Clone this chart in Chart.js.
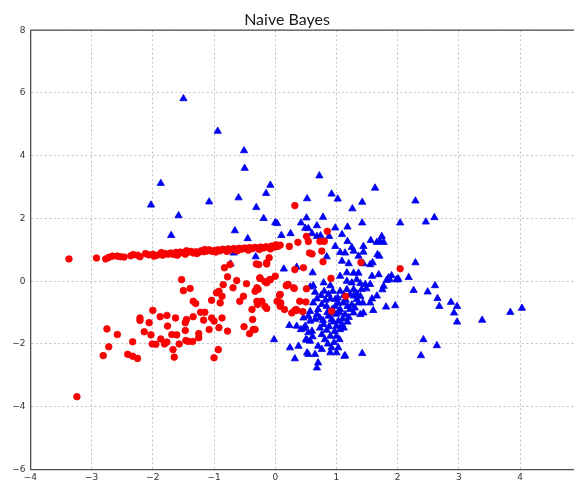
<!DOCTYPE html>
<html>
<head>
<meta charset="utf-8">
<title>Naive Bayes</title>
<script src="https://cdn.jsdelivr.net/npm/chart.js@4.4.0/dist/chart.umd.min.js"></script>
<style>
  html, body { margin: 0; padding: 0; background: #ffffff; }
  #wrap { width: 574px; height: 485px; }
</style>
</head>
<body>
<div id="wrap"><canvas id="chart" width="574" height="485"></canvas></div>
<script>
// Class 0 (red circles)
const redX = [
  -3.37, -2.92, -2.77, -2.72, -2.66, -2.58, -2.53, -2.47, -2.36, -2.32, -2.25, -2.21, -2.12, -2.07, -2.00, -1.98,
  -1.93, -1.88, -1.86, -1.84, -1.80, -1.75, -1.71, -1.66, -1.62, -1.60, -1.58, -1.55, -1.50, -1.47, -1.45, -1.43,
  -1.38, -1.34, -1.30, -1.28, -1.25, -1.21, -1.17, -1.15, -1.12, -1.08, -1.03, -0.99, -0.97, -0.94, -0.90, -0.86,
  -0.81, -0.79, -0.77, -0.72, -0.68, -0.64, -0.62, -0.59, -0.55, -0.50, -0.46, -0.44, -0.42, -0.37, -0.33, -0.28,
  -0.26, -0.24, -0.19, -0.15, -0.10, -0.08, -0.06, -0.01, 0.01, 0.04, 0.08, 0.23, 0.37,
  0.32, 0.85, 0.51, 0.54, 0.73, 0.80, 0.60, 0.76, 0.56, 0.78, 1.40, 2.04, 0.91, 1.15, 0.92, 0.46,
  0.51, 0.50, 0.45, 0.27, 0.34, 0.30, 0.18, 0.21, -0.10, -0.27, -0.14, 0.32, -0.25, -0.09, -0.17, 0.08, -0.28,
  -1.53, -1.50, -1.39, -0.83, -0.74, -0.78, -0.63, -0.47, -0.85, -0.69, -0.92, -0.96, -0.87, -0.31, -0.14, -0.25,
  -0.08, 0.00, -0.14, -0.30, -0.33, -0.52, -0.58, -0.22, -0.17, -0.14, -0.29, 0.03, 0.08, 0.19, 0.31, 0.07,
  0.35, -0.38, -0.37, -0.51, -0.42, -0.36, -0.78, -0.92, -0.87, -1.04, -1.00, -1.17, -1.22, -1.15, -1.30, -1.34,
  -1.04, -0.90, -1.34, -1.45, -1.47, -1.63, -1.77, -1.88, -2.00, -2.21, -2.21, -2.06, -2.14, -2.03, -1.76, -1.87,
  -2.01, -1.95, -1.81, -1.77, -1.69, -1.61, -1.67, -1.65, -1.57, -1.47, -1.46, -1.42, -1.35, -1.25, -1.25, -1.08,
  -1.00, -0.93, -2.75, -2.58, -2.72, -2.81, -2.33, -2.41, -2.33, -2.25, -3.24, 0.09, 0.15, 0.32, 0.40, -0.30, -0.33
];
const redY = [
  0.71, 0.74, 0.71, 0.76, 0.80, 0.80, 0.78, 0.77, 0.81, 0.85, 0.83, 0.78, 0.88, 0.84, 0.86, 0.80,
  0.83, 0.86, 0.91, 0.83, 0.88, 0.86, 0.90, 0.85, 0.92, 0.83, 0.88, 0.93, 0.90, 0.86, 0.97, 0.92,
  0.95, 0.90, 0.94, 0.88, 0.92, 0.97, 0.94, 1.01, 0.96, 1.00, 0.95, 0.98, 0.93, 1.00, 0.97, 1.02,
  0.99, 0.95, 1.03, 1.00, 1.04, 1.01, 0.97, 1.05, 1.02, 1.06, 1.03, 0.99, 1.07, 1.04, 1.08, 1.05,
  1.01, 1.09, 1.06, 1.10, 1.08, 1.03, 1.12, 1.09, 1.16, 1.11, 1.15, 1.11, 1.24,
  2.41, 1.59, 1.43, 1.27, 1.27, 1.27, 0.87, 0.96, 0.90, 0.62, 0.60, 0.40, 0.09, -0.48, -0.96, 0.43,
  -0.24, -0.66, -0.97, -1.01, -0.90, -0.21, -0.14, -0.10, 0.75, 0.53, 0.59, 0.37, 0.09, 0.05, -0.01, -0.42, -0.26,
  0.05, -0.30, -0.23, 0.43, 0.53, 0.14, 0.02, -0.08, -0.11, -0.21, -0.32, -0.37, -0.48, 0.55, 0.55, 0.11,
  0.05, 0.16, -0.05, -0.21, -0.32, -0.48, -0.64, -0.64, -0.80, -0.87, -0.74, -0.64, -0.80, -0.14, -0.23, -0.45,
  -0.93, -0.90, -1.22, -1.45, -1.67, -1.54, -1.59, -1.48, -1.17, -1.17, -1.27, -1.24, -0.99, -0.99, -0.71, -0.64,
  -0.61, -0.69, -1.13, -1.22, -1.32, -1.17, -1.09, -1.13, -0.93, -1.17, -1.25, -1.32, -1.61, -1.71, -1.43, -1.84,
  -2.00, -2.01, -2.00, -1.94, -1.70, -1.71, -2.18, -2.42, -2.00, -1.57, -1.89, -1.92, -1.92, -1.67, -1.80, -1.54,
  -2.44, -2.18, -1.52, -1.70, -2.09, -2.37, -1.93, -2.33, -2.39, -2.46, -3.68, -0.69, -0.90, -0.93, -0.64, -0.64, -1.54
];

// Class 1 (blue triangles)
const blueX = [
  -1.50, -0.94, -0.51, -0.50, -1.87, -0.08, -0.15, -0.60, -2.03, -1.08, -0.31, -1.58, -0.19, 0.00, 0.03, 0.52,
  0.42, 0.49, -0.66, -0.45, 0.10, 0.25, -1.70, -0.68, -0.32, -0.73, 0.14, 0.35,
  0.72, 0.92, 1.02, 1.63, 1.26, 1.42, 2.29, 0.78, 0.51, 0.54, 0.68, 0.98, 1.18, 1.42, 2.04, 2.46, 2.60, 0.60,
  0.68, 0.74, 1.09, 0.88, 1.74, 1.71, 1.77, 1.66, 1.56, 1.18, 0.98, 1.06, 1.14, 1.25, 1.28, 1.44, 1.44, 1.36,
  1.67, 1.70, 0.84, 1.09, 1.20, 1.44, 1.55, 1.59, 2.29, 0.61, 1.06, 1.17, 1.28, 1.36, 1.58, 1.69, 1.90, 1.85,
  2.01, 2.18,
  2.00, 2.26, 2.49, 2.61, 2.65, 2.68, 2.87, 2.97, 2.92, 2.97, 3.38, 3.84, 4.03, 2.42, 2.64, 1.96, 2.38, 1.42,
  1.13, 1.81, 1.60, 1.77, 1.75,
  1.17, 1.25, 1.33, 1.39, 1.47, 1.55, 1.41, 1.49, 1.58, 1.66, 1.55, 1.39, 1.28, 1.33, 1.82, 1.87, 1.98,
  0.62, 0.57, 0.68, 0.79, 0.80, 0.90, 0.94, 0.87, 0.90, 0.98, 1.02, 1.06, 1.17, 1.22, 1.28, 1.33, 1.36, 1.43,
  1.11, 1.18, 1.06, 1.22, 1.14, 1.28, 1.39, 1.44, 0.95, 0.87, 0.92, 1.03, 1.09, 1.00, 1.06, 1.12, 0.79, 0.73,
  0.84, 0.76, 0.90, 0.81, 1.00, 1.05, 0.70, 0.76, 0.92, 1.03, 0.90, 1.00, 0.54, 0.65, 0.70, 0.68, 0.60, 0.61,
  0.57, 0.49, 0.42, 0.35, 0.23, 0.54, 0.50, 0.38, 0.24, 0.32, -0.02, 0.62, 0.70, 0.76, 0.84, 0.57, 0.68, 0.54,
  0.46, 0.65, 0.73, 0.57, 0.47, 0.52, 0.52, 1.14,
  0.98, 1.03, 1.15, 1.20, 0.95, 1.10, 0.85, 1.00, 0.97, 0.88, 1.05, 1.25, 0.82, 0.75, 0.65, 1.12, 0.93, 1.30,
  0.78, 1.18, 0.86, 0.96
];
const blueY = [
  5.82, 4.78, 4.16, 3.60, 3.12, 3.06, 2.80, 2.66, 2.43, 2.53, 2.35, 2.09, 2.00, 1.87, 1.84, 2.63,
  1.86, 1.69, 1.61, 1.36, 1.46, 1.52, 1.46, 0.90, 0.78, 0.55, 0.39, 0.45,
  3.36, 2.78, 2.62, 2.97, 2.31, 2.52, 2.56, 2.04, 2.02, 1.68, 1.77, 1.70, 1.73, 1.86, 1.86, 1.89, 2.03, 1.52,
  1.43, 1.45, 1.49, 1.43, 1.43, 1.27, 1.24, 1.24, 1.30, 1.27, 1.11, 0.92, 0.90, 1.08, 0.96, 1.11, 0.93, 0.80,
  0.85, 0.80, 0.78, 0.64, 0.56, 0.56, 0.53, 0.59, 0.59, 0.27, 0.16, 0.27, 0.26, 0.26, 0.16, 0.21, 0.18, 0.11,
  0.07, 0.12,
  0.05, -0.29, -0.34, -0.14, -0.55, -0.80, -0.67, -0.80, -1.01, -1.30, -1.24, -0.99, -0.86, -1.86, -2.05, -0.78, -2.37, -2.30,
  -2.39, -0.82, -0.93, -0.16, -0.27,
  0.00, -0.05, 0.05, -0.07, -0.10, -0.10, -0.26, -0.24, -0.56, -0.47, -0.69, -0.48, -0.26, -0.39, 0.03, 0.05, 0.05,
  -0.14, -0.18, -0.56, -0.05, -0.32, -0.14, -0.32, -0.42, -0.56, -0.58, -0.53, -0.32, -0.26, -0.42, -0.47, -0.58, -0.69, -0.69,
  -0.69, -0.80, -0.90, -0.90, -1.06, -1.01, -1.06, -1.01, -1.01, -1.11, -1.22, -1.27, -1.38, -1.43, -1.54, -1.49, -1.38, -1.49,
  -1.56, -1.70, -1.75, -1.86, -1.75, -1.86, -2.07, -2.17, -2.12, -2.12, -2.28, -2.28, -2.33, -2.33, -2.60, -2.76, -1.59, -1.77,
  -1.91, -1.43, -1.54, -1.43, -1.41, -1.64, -1.86, -2.07, -2.12, -2.47, -1.86, -0.69, -0.90, -0.74, -0.80, -0.96, -1.06, -1.11,
  -1.17, -1.22, -1.17, -1.27, -1.50, -1.88, -2.28, -2.37,
  -0.80, -0.70, -0.60, -1.15, -1.30, -1.20, -1.00, -1.05, -1.60, -1.45, -1.00, -0.75, -0.60, -0.45, -0.35, -0.45, -0.90, -0.85,
  -1.25, -1.30, -2.00, -1.95
];

// Axis ticks
const xTicks = [-4, -3, -2, -1, 0, 1, 2, 3, 4];
const yTicks = [-6, -4, -2, 0, 2, 4, 6, 8];

const toPoints = (xs, ys) => xs.map((x, i) => ({ x: x, y: ys[i] }));
const fmt = v => (v < 0 ? '\u2212' + Math.abs(v) : String(v));

// Top spine of the plot frame
const topSpine = {
  id: 'topSpine',
  beforeDatasetsDraw(chart) {
    const { ctx, chartArea: a } = chart;
    ctx.save();
    ctx.strokeStyle = '#4d4d4d';
    ctx.lineWidth = 1.3;
    ctx.beginPath();
    ctx.moveTo(a.left, a.top);
    ctx.lineTo(a.right, a.top);
    ctx.stroke();
    ctx.restore();
  }
};

new Chart(document.getElementById('chart'), {
  type: 'scatter',
  data: {
    datasets: [
      {
        label: 'class 0',
        data: toPoints(redX, redY),
        pointStyle: 'circle',
        pointRadius: 3.3,
        backgroundColor: '#ff0000',
        borderColor: '#ee0000',
        borderWidth: 0.8
      },
      {
        label: 'class 1',
        data: toPoints(blueX, blueY),
        pointStyle: 'triangle',
        pointRadius: 4.2,
        backgroundColor: '#0000ff',
        borderColor: '#0000e0',
        borderWidth: 0.8
      }
    ]
  },
  options: {
    responsive: false,
    animation: false,
    events: [],
    layout: { autoPadding: false, padding: 0 },
    plugins: {
      legend: { display: false },
      tooltip: { enabled: false },
      title: {
        display: true,
        text: 'Naive Bayes',
        color: '#1a1a1a',
        font: { family: 'Lato, "Open Sans", sans-serif', size: 16, weight: 'normal', lineHeight: 1.2 },
        padding: { top: 10, bottom: 1 }
      }
    },
    scales: {
      x: {
        type: 'linear',
        min: -4,
        max: 4.88,
        afterBuildTicks: s => { s.ticks = xTicks.map(v => ({ value: v })); },
        afterFit: s => { s.height = 15.5; },
        ticks: {
          callback: fmt,
          color: '#333333',
          font: { family: '"DejaVu Sans", sans-serif', size: 9 },
          padding: 3,
          maxRotation: 0
        },
        grid: { color: '#c4c4c4', lineWidth: 1, drawTicks: false },
        border: { display: true, color: '#4d4d4d', width: 1.3, dash: [2, 2.5] }
      },
      y: {
        type: 'linear',
        min: -6,
        max: 8,
        afterBuildTicks: s => { s.ticks = yTicks.map(v => ({ value: v })); },
        afterFit: s => { s.width = 30.4; },
        ticks: {
          callback: fmt,
          color: '#333333',
          font: { family: '"DejaVu Sans", sans-serif', size: 9 },
          padding: 5
        },
        grid: { color: '#c4c4c4', lineWidth: 1, drawTicks: false },
        border: { display: true, color: '#4d4d4d', width: 1.3, dash: [2, 2.5] }
      }
    }
  },
  plugins: [topSpine]
});
</script>
</body>
</html>
